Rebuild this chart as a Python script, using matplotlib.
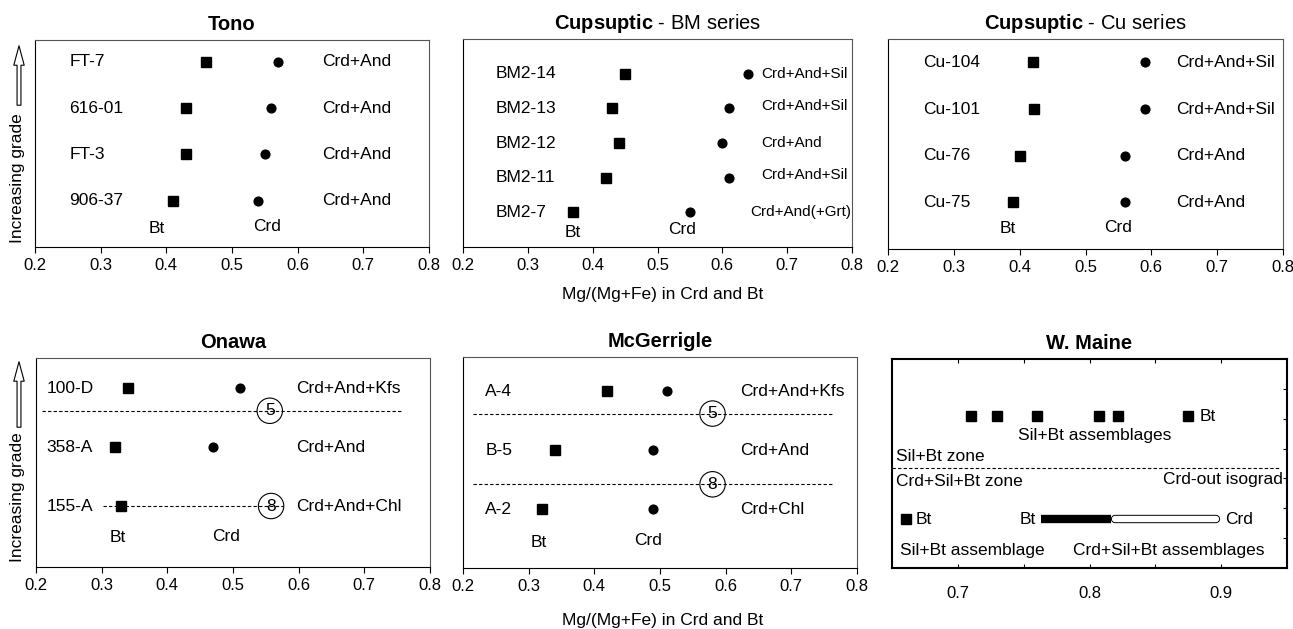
import matplotlib
matplotlib.use('Agg')
import matplotlib.pyplot as plt
from matplotlib.patches import FancyArrowPatch
import numpy as np

plt.rcParams['font.family'] = ['Liberation Sans', 'DejaVu Sans']
plt.rcParams['mathtext.fontset'] = 'custom'
plt.rcParams['mathtext.rm'] = 'Liberation Sans'
plt.rcParams['mathtext.bf'] = 'Liberation Sans:bold'

# --- data (rows listed top = highest grade) ---
tono_samples = ['FT-7', '616-01', 'FT-3', '906-37']
tono_bt = [0.46, 0.43, 0.43, 0.41]
tono_crd = [0.57, 0.56, 0.55, 0.54]
tono_assem = ['Crd+And', 'Crd+And', 'Crd+And', 'Crd+And']

bm_samples = ['BM2-14', 'BM2-13', 'BM2-12', 'BM2-11', 'BM2-7']
bm_bt = [0.45, 0.43, 0.44, 0.42, 0.37]
bm_crd = [0.64, 0.61, 0.60, 0.61, 0.55]
bm_assem = ['Crd+And+Sil', 'Crd+And+Sil', 'Crd+And', 'Crd+And+Sil', 'Crd+And(+Grt)']

cu_samples = ['Cu-104', 'Cu-101', 'Cu-76', 'Cu-75']
cu_bt = [0.42, 0.422, 0.40, 0.39]
cu_crd = [0.59, 0.59, 0.56, 0.56]
cu_assem = ['Crd+And+Sil', 'Crd+And+Sil', 'Crd+And', 'Crd+And']

onawa_samples = ['100-D', '358-A', '155-A']
onawa_bt = [0.34, 0.32, 0.33]
onawa_crd = [0.51, 0.47, np.nan]
onawa_assem = ['Crd+And+Kfs', 'Crd+And', 'Crd+And+Chl']

mcg_samples = ['A-4', 'B-5', 'A-2']
mcg_bt = [0.42, 0.34, 0.32]
mcg_crd = [0.51, 0.49, 0.49]
mcg_assem = ['Crd+And+Kfs', 'Crd+And', 'Crd+Chl']

maine_sil_bt = [0.71, 0.73, 0.76, 0.807, 0.822, 0.875]
maine_crd_zone_bt = [0.661]
maine_bt_range = [0.763, 0.816]
maine_crd_range = [0.819, 0.896]

W, H = 1293, 629
fig = plt.figure(figsize=(W / 100, H / 100), dpi=100)
FS = 12.5


def add_box(x0, y0, x1, y1):
    return fig.add_axes([x0 / W, 1 - y1 / H, (x1 - x0) / W, (y1 - y0) / H])


def style(ax, ymin, ymax):
    ax.set_xlim(0.2, 0.8)
    ax.set_ylim(ymin, ymax)
    ticks = np.round(np.arange(0.2, 0.81, 0.1), 1)
    ax.set_xticks(ticks)
    ax.set_xticklabels(['%.1f' % t for t in ticks])
    ax.set_yticks([])
    ax.tick_params(axis='x', direction='out', length=4, width=0.8, labelsize=12, pad=4)
    for s in ax.spines.values():
        s.set_linewidth(0.8)
        s.set_color('#555555')
    ax.spines['left'].set_color('black')
    ax.spines['bottom'].set_color('black')


def rows(ax, samples, bt, crd, assem, xs, xa, afs=FS, aoff=None):
    y = np.arange(len(samples), 0, -1)
    ax.plot(bt, y, 's', color='black', ms=7, ls='none')
    ax.plot(crd, y, 'o', color='black', ms=6.3, ls='none')
    for i, name in enumerate(samples):
        ax.text(xs, y[i], name, ha='left', va='center', fontsize=FS)
        dy = aoff[i] if aoff else 0
        ax.text(xa, y[i] + dy, assem[i], ha='left', va='center', fontsize=afs)


def grade_arrow(ytop, ybot, ytext):
    fig.text(18 / W, 1 - ytext / H, 'Increasing grade', rotation=90,
             ha='center', va='center', fontsize=FS)
    arr = FancyArrowPatch((19 / W, 1 - ybot / H), (19 / W, 1 - ytop / H),
                          transform=fig.transFigure, mutation_scale=10,
                          arrowstyle='simple,head_length=1.4,head_width=0.75,tail_width=0.28',
                          fc='white', ec='black', lw=0.8)
    fig.add_artist(arr)


def iso_circle(ax, x, y, label):
    ax.text(x, y, label, ha='center', va='center', fontsize=FS,
            bbox=dict(boxstyle='circle,pad=0.3', fc='none', ec='black', lw=0.8))


# Tono
ax1 = add_box(35, 40, 429, 247)
style(ax1, 0, 4.47)
ax1.set_title('Tono', fontsize=14.5, fontweight='bold', pad=7)
rows(ax1, tono_samples, tono_bt, tono_crd, tono_assem, 0.252, 0.638)
ax1.text(0.386, 0.41, 'Bt', ha='center', va='center', fontsize=FS)
ax1.text(0.553, 0.45, 'Crd', ha='center', va='center', fontsize=FS)

# Cupsuptic - BM
ax2 = add_box(463, 39, 852, 247)
style(ax2, 0, 6.0)
ax2.set_title(r'$\mathbf{Cupsuptic}$ - BM series', fontsize=14.5, pad=7)
rows(ax2, bm_samples, bm_bt, bm_crd, bm_assem, 0.251, 0.66, afs=11,
     aoff=[0, 0.08, 0, 0.08, 0])
ax2.texts[-1].set_x(0.643)
ax2.text(0.369, 0.43, 'Bt', ha='center', va='center', fontsize=FS)
ax2.text(0.538, 0.5, 'Crd', ha='center', va='center', fontsize=FS)

# Cupsuptic - Cu
ax3 = add_box(888, 39, 1283, 249)
style(ax3, 0, 4.5)
ax3.set_title(r'$\mathbf{Cupsuptic}$ - Cu series', fontsize=14.5, pad=7)
rows(ax3, cu_samples, cu_bt, cu_crd, cu_assem, 0.253, 0.637)
ax3.text(0.382, 0.43, 'Bt', ha='center', va='center', fontsize=FS)
ax3.text(0.55, 0.47, 'Crd', ha='center', va='center', fontsize=FS)

# Onawa
ax4 = add_box(36, 358, 430, 567)
style(ax4, -0.034, 3.51)
ax4.set_title('Onawa', fontsize=14.5, fontweight='bold', pad=7)
ax4.plot([0.209, 0.759], [2.615, 2.615], ls=(0, (3, 2)), color='black', lw=0.8)
ax4.plot([0.302, 0.576], [1, 1], ls=(0, (3, 2)), color='black', lw=0.8)
rows(ax4, onawa_samples, onawa_bt, onawa_crd, onawa_assem, 0.216, 0.596)
iso_circle(ax4, 0.556, 2.615, '5')
iso_circle(ax4, 0.558, 1.0, '8')
ax4.text(0.325, 0.46, 'Bt', ha='center', va='center', fontsize=FS)
ax4.text(0.49, 0.49, 'Crd', ha='center', va='center', fontsize=FS)

# McGerrigle
ax5 = add_box(463, 357, 857, 568)
style(ax5, 0, 3.58)
ax5.set_title('McGerrigle', fontsize=14.5, fontweight='bold', pad=7)
for yl in [2.62, 1.42]:
    ax5.plot([0.215, 0.764], [yl, yl], ls=(0, (3, 2)), color='black', lw=0.8)
rows(ax5, mcg_samples, mcg_bt, mcg_crd, mcg_assem, 0.234, 0.622)
iso_circle(ax5, 0.58, 2.62, '5')
iso_circle(ax5, 0.58, 1.42, '8')
ax5.text(0.316, 0.43, 'Bt', ha='center', va='center', fontsize=FS)
ax5.text(0.482, 0.47, 'Crd', ha='center', va='center', fontsize=FS)

# W. Maine
ax6 = add_box(892, 359, 1287, 568)
ax6.set_xlim(0.65, 0.95)
ax6.set_ylim(0, 7)
ax6.set_xticks([0.7, 0.8, 0.9])
ax6.set_xticklabels(['0.7', '0.8', '0.9'])
ax6.set_xticks([0.75, 0.85], minor=True)
ax6.set_yticks(np.arange(1, 7))
ax6.tick_params(axis='both', which='both', direction='in', length=3, width=0.8,
                top=True, bottom=True, right=True, left=False, labelleft=False,
                labelsize=12, pad=13)
for s in ax6.spines.values():
    s.set_linewidth(1.5)
    s.set_color('black')
ax6.set_title('W. Maine', fontsize=14.5, fontweight='bold', pad=7)
ax6.plot(maine_sil_bt, [5.09] * len(maine_sil_bt), 's', color='black', ms=7, ls='none')
ax6.text(0.884, 5.09, 'Bt', ha='left', va='center', fontsize=FS)
ax6.text(0.804, 4.45, 'Sil+Bt assemblages', ha='center', va='center', fontsize=FS)
ax6.text(0.653, 3.73, 'Sil+Bt zone', ha='left', va='center', fontsize=FS)
ax6.plot([0.65, 0.945], [3.34, 3.34], ls=(0, (3, 2)), color='black', lw=0.8)
ax6.text(0.653, 2.91, 'Crd+Sil+Bt zone', ha='left', va='center', fontsize=FS)
ax6.text(0.947, 2.98, 'Crd-out isograd', ha='right', va='center', fontsize=FS)
ax6.plot(maine_crd_zone_bt, [1.63], 's', color='black', ms=7, ls='none')
ax6.text(0.668, 1.63, 'Bt', ha='left', va='center', fontsize=FS)
ax6.plot(maine_crd_range, [1.63, 1.63], color='black', lw=6, solid_capstyle='round')
ax6.plot(maine_crd_range, [1.63, 1.63], color='white', lw=4.6, solid_capstyle='round')
ax6.plot(maine_bt_range, [1.63, 1.63], color='black', lw=6, solid_capstyle='butt')
ax6.text(0.759, 1.63, 'Bt', ha='right', va='center', fontsize=FS)
ax6.text(0.903, 1.63, 'Crd', ha='left', va='center', fontsize=FS)
ax6.text(0.656, 0.6, 'Sil+Bt assemblage', ha='left', va='center', fontsize=FS)
ax6.text(0.86, 0.6, 'Crd+Sil+Bt assemblages', ha='center', va='center', fontsize=FS)

# shared labels
fig.text(663 / W, 1 - 295 / H, 'Mg/(Mg+Fe) in Crd and Bt', ha='center', va='center', fontsize=12.5)
fig.text(663 / W, 1 - 620 / H, 'Mg/(Mg+Fe) in Crd and Bt', ha='center', va='center', fontsize=12.5)
grade_arrow(43, 108, 178)
grade_arrow(359, 430, 497)

fig.savefig('out.png', dpi=100)
